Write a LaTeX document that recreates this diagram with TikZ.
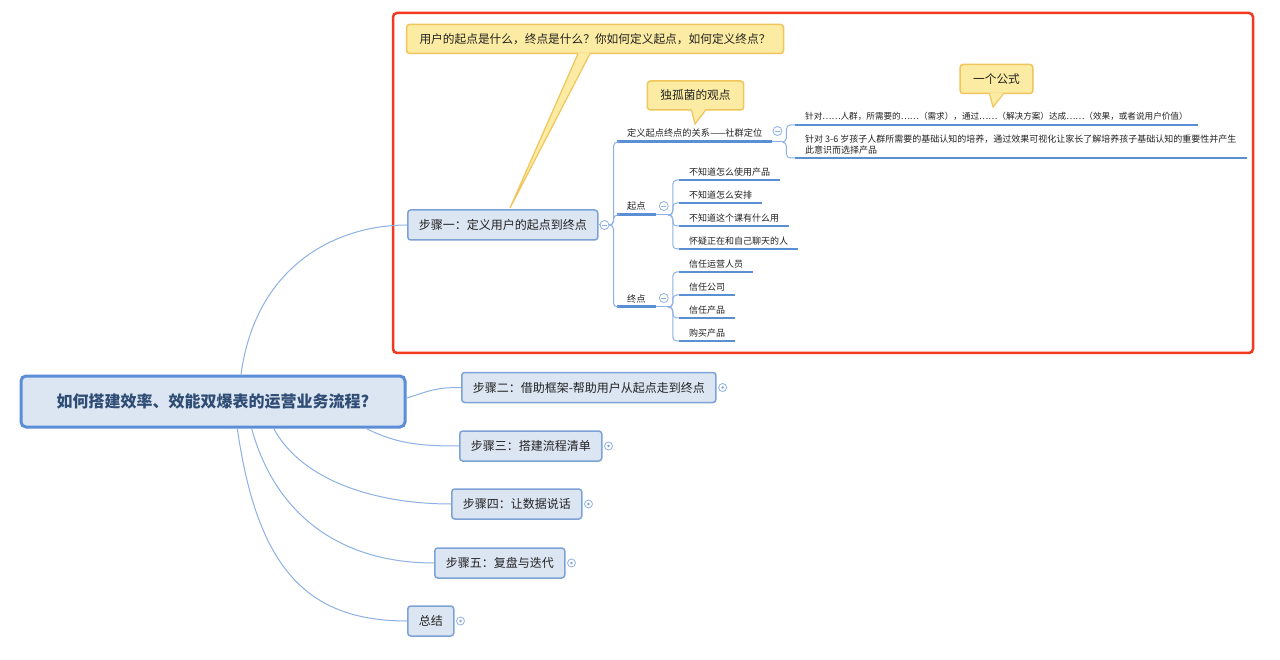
\documentclass[tikz,border=0pt]{standalone}
\usepackage{fontspec}
\setmainfont{Noto Sans CJK SC}
\usetikzlibrary{calc}
\definecolor{linkblue}{HTML}{8DB1E4}
\definecolor{ulblue}{HTML}{5B8FD4}
\definecolor{boxfill}{HTML}{DCE6F3}
\definecolor{boxline}{HTML}{7DA2D6}
\definecolor{rootline}{HTML}{5B8ED6}
\definecolor{roottxt}{HTML}{2E4C74}
\definecolor{txt}{HTML}{222222}
\definecolor{calyellow}{HTML}{FCEBA2}
\definecolor{calborder}{HTML}{EFC55C}
\definecolor{framered}{HTML}{F2381F}
\tikzset{
  rootbox/.style={draw=rootline,fill=boxfill,line width=3pt,rounded corners=5pt,
    minimum width=384pt,minimum height=51pt,text=roottxt,
    font=\fontsize{16}{18}\selectfont\bfseries},
  stepbox/.style={draw=boxline,fill=boxfill,line width=1.5pt,rounded corners=3pt,
    minimum height=30pt,inner xsep=11pt,anchor=west,text=txt,
    font=\fontsize{12}{14}\selectfont},
  midleaf/.style={anchor=south west,inner xsep=10pt,inner ysep=4pt,text=txt,
    font=\fontsize{9.2}{11}\selectfont},
  leaf/.style={midleaf,font=\fontsize{9}{11}\selectfont},
  uthick/.style={draw=ulblue,line width=3pt},
  uthin/.style={draw=ulblue,line width=2.5pt},
  link/.style={draw=linkblue,line width=1pt},
  callout/.style={draw=calborder,fill=calyellow,line width=1.5pt,rounded corners=3pt,
    inner xsep=13pt,minimum height=29pt,text=txt,font=\fontsize{11.7}{14}\selectfont},
  fold/.style={circle,draw=linkblue,fill=white,line width=0.8pt,minimum size=9pt,inner sep=0pt,
    path picture={\draw[linkblue,line width=0.8pt]
      ([xshift=-2.5pt]path picture bounding box.center) --
      ([xshift=2.5pt]path picture bounding box.center);}},
  foldc/.style={circle,draw=linkblue,fill=white,line width=0.8pt,minimum size=8pt,inner sep=0pt,
    path picture={\fill[boxline] (path picture bounding box.center) circle (1.4pt);}}
}
\begin{document}
\begin{tikzpicture}[x=1pt,y=-1pt]
\fill[white] (0,0) rectangle (1280,660);
\useasboundingbox (0,0) rectangle (1280,660);
%Rahmen
	\draw[framered,line width=2.5pt,rounded corners=4pt] (393,13) rectangle (1253,353);
%Wurzel und Schritte
	\node[rootbox] (root) at (213,401.5) {如何搭建效率、效能双爆表的运营业务流程?};
	\node[stepbox] (s1) at (407,225) {步骤一：定义用户的起点到终点};
	\node[stepbox] (s2) at (461,387.5) {步骤二：借助框架-帮助用户从起点走到终点};
	\node[stepbox] (s3) at (459,446) {步骤三：搭建流程清单};
	\node[stepbox] (s4) at (451,504) {步骤四：让数据说话};
	\node[stepbox] (s5) at (434,563) {步骤五：复盘与迭代};
	\node[stepbox] (sum) at (407,621) {总结};
%Verbindungen Wurzel
	\draw[link] (root.44) .. controls +(15,-110) and +(-70,0) .. (s1.west);
	\draw[link] (root.1) .. controls +(25,-8) and +(-25,0) .. (s2.west);
	\draw[link] (root.-10) .. controls +(30,15) and +(-40,0) .. (s3.west);
	\draw[link] (root.-24) .. controls +(30,55) and +(-70,0) .. (s4.west);
	\draw[link] (root.-35) .. controls +(25,90) and +(-90,0) .. (s5.west);
	\draw[link] (root.-48) .. controls +(20,140) and +(-100,0) .. (sum.west);
%Schritt eins
	\node[midleaf] (def) at (617,142) {定义起点终点的关系——社群定位};
	\node[midleaf] (qd) at (617,215) {起点};
	\node[midleaf] (zd) at (617,307) {终点};
	\foreach \n in {def,qd,zd}{
	  \draw[uthick] (\n.south west) -- (\n.south east);}
	\coordinate (j1) at ($(s1.east)+(11,0)$);
	\draw[link] (s1.east) -- (j1);
	\foreach \n in {def,qd,zd}{
	  \draw[link,rounded corners=4pt] (j1) -- ++(4,0) |- (\n.south west);}
%Sozialgruppe
	\node[leaf,font=\fontsize{8.6}{11}\selectfont] (f1) at (795,125)
		{针对……人群，所需要的……（需求），通过……（解决方案）达成……（效果，或者说用户价值）};
	\node[leaf,align=left] (f2) at (795,158)
		{针对 3-6 岁孩子人群所需要的基础认知的培养，通过效果可视化让家长了解培养孩子基础认知的重要性并产生\\此意识而选择产品};
	\draw[uthin] (f1.south west) -- (f1.south east);
	\draw[uthin] (f2.south west) -- (f2.south east);
	\coordinate (j2) at ($(def.south east)+(10,0)$);
	\draw[link] (def.south east) -- (j2);
	\foreach \n in {f1,f2}{
	  \draw[link,rounded corners=4pt] (j2) -- ++(4,0) |- (\n.south west);}
%Startpunkte
	\coordinate (j3) at ($(qd.south east)+(12,0)$);
	\draw[link] (qd.south east) -- (j3);
	\foreach \t [count=\i] in {不知道怎么使用产品,不知道怎么安排,不知道这个课有什么用,怀疑正在和自己聊天的人}{
	  \node[leaf] (qa\i) at (679,{157+23*\i}) {\t};
	  \draw[uthin] (qa\i.south west) -- (qa\i.south east);
	  \draw[link,rounded corners=4pt] (j3) -- ++(5,0) |- (qa\i.south west);}
%Endpunkte
	\coordinate (j4) at ($(zd.south east)+(12,0)$);
	\draw[link] (zd.south east) -- (j4);
	\foreach \t [count=\i] in {信任运营人员,信任公司,信任产品,购买产品}{
	  \node[leaf] (za\i) at (679,{249+23*\i}) {\t};
	  \draw[uthin] (za\i.south west) -- (za\i.south east);
	  \draw[link,rounded corners=4pt] (j4) -- ++(5,0) |- (za\i.south west);}
%Knoepfe
	\node[fold] (k1) at ($(s1.east)+(6,0)$) {};
	\node[fold] (k2) at ($(def.south east)+(5,-11)$) {};
	\node[fold] (k3) at ($(qd.south east)+(8,-9)$) {};
	\node[fold] (k4) at ($(zd.south east)+(8,-9)$) {};
	\foreach \n in {s2,s3,s4,s5,sum}{
	  \node[foldc] (k\n) at ($(\n.east)+(6,0)$) {};}
%Sprechblasen
	\node[callout] (q1) at (595,39) {用户的起点是什么，终点是什么？你如何定义起点，如何定义终点？};
	\node[callout] (q2) at (695.5,95.5) {独孤菌的观点};
	\node[callout] (q3) at (996.5,79) {一个公式};
	\coordinate (q1tip) at (510,208);
	\coordinate (q2tip) at (695,124);
	\coordinate (q3tip) at (993,107);
	\fill[calyellow] ($(q1.south)+(-17,-1.5)$) -- (q1tip) -- ($(q1.south)+(-5,-1.5)$) -- cycle;
	\draw[calborder,line width=1.2pt] ($(q1.south)+(-17,-0.5)$) -- (q1tip) -- ($(q1.south)+(-5,-0.5)$);
	\fill[calyellow] ($(q2.south)+(-4,-1.5)$) -- (q2tip) -- ($(q2.south)+(10,-1.5)$) -- cycle;
	\draw[calborder,line width=1.2pt] ($(q2.south)+(-4,-0.5)$) -- (q2tip) -- ($(q2.south)+(10,-0.5)$);
	\fill[calyellow] ($(q3.south)+(-7,-1.5)$) -- (q3tip) -- ($(q3.south)+(7,-1.5)$) -- cycle;
	\draw[calborder,line width=1.2pt] ($(q3.south)+(-7,-0.5)$) -- (q3tip) -- ($(q3.south)+(7,-0.5)$);
\end{tikzpicture}
\end{document}
